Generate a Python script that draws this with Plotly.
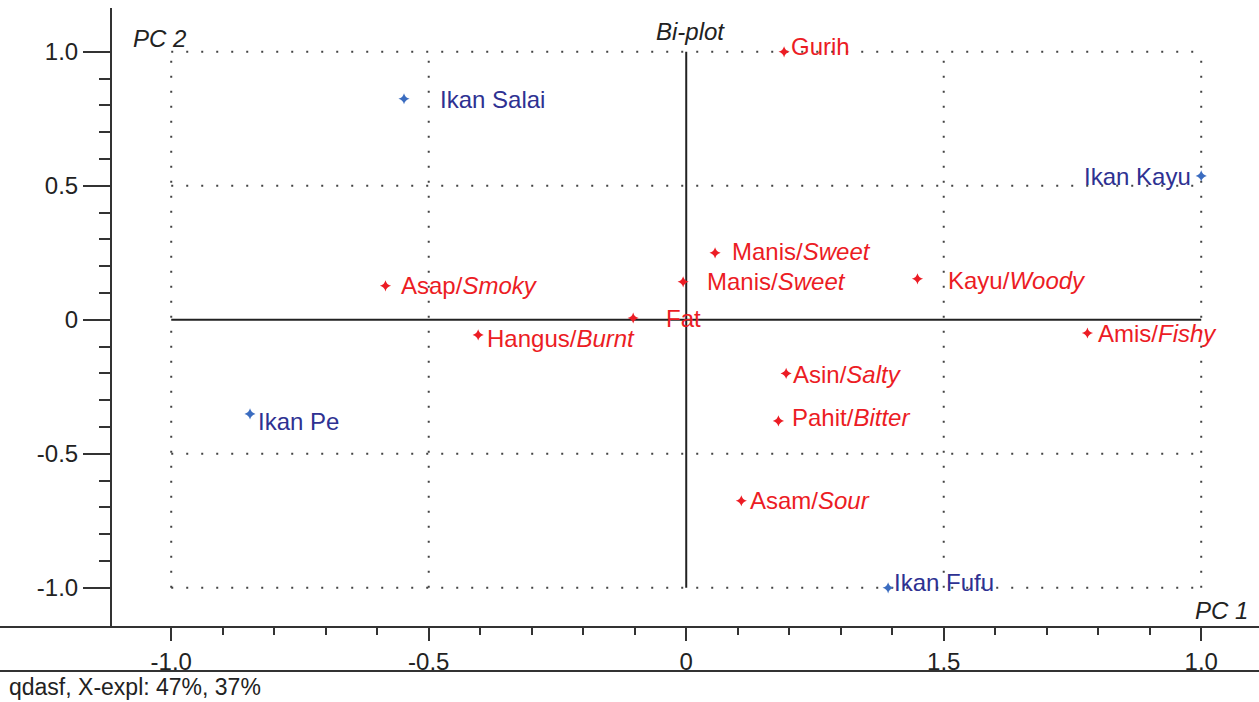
import plotly.graph_objects as go

# ---- data ----
attr_names = ["Gurih", "Manis/", "Manis/", "Kayu/", "Asap/", "Fat", "Hangus/", "Amis/", "Asin/", "Pahit/", "Asam/"]
attr_english = ["", "Sweet", "Sweet", "Woody", "Smoky", "", "Burnt", "Fishy", "Salty", "Bitter", "Sour"]
attr_pc1 = [0.190, 0.056, -0.006, 0.449, -0.584, -0.103, -0.404, 0.779, 0.194, 0.179, 0.107]
attr_pc2 = [1.000, 0.250, 0.142, 0.153, 0.127, 0.007, -0.056, -0.049, -0.200, -0.377, -0.675]

sample_names = ["Ikan Salai", "Ikan Kayu", "Ikan Pe", "Ikan Fufu"]
sample_pc1 = [-0.548, 1.000, -0.847, 0.392]
sample_pc2 = [0.825, 0.537, -0.351, -1.000]

x_tickvals = [-1.0, -0.5, 0.0, 0.5, 1.0]
x_ticktext = ["-1.0", "-0.5", "0", "1.5", "1.0"]
y_tickvals = [-1.0, -0.5, 0.0, 0.5, 1.0]
y_ticktext = ["-1.0", "-0.5", "0", "0.5", "1.0"]
minor_vals = [round(-1.0 + 0.1 * i, 1) for i in range(21)]
grid_vals = [-1.0, -0.5, 0.5, 1.0]

# label offsets (pixels)
attr_xshift = [5, 15, 22, 29, 14, 31, 7, 9, 5, 12, 7]
attr_yshift = [5, 1, 0, -2, 0, 0, -4, 0, -1, 3, 0]
sample_xshift = [34, -8, 6, 4]
sample_yshift = [-1, -1, -8, 5]
sample_anchor = ["left", "right", "left", "left"]

RED = "#EC1C24"
NAVY = "#2E3192"
MBLUE = "#3B6CC0"
INK = "#222222"
FONT = "Liberation Sans, Arial, sans-serif"
FS = 24

W, H = 1259, 702
ML, MR, MT, MB = 112, 0, 8, 75
PW, PH = W - ML - MR, H - MT - MB
xr = [-1.115, -1.115 + PW / 515.0]
yr = [-1.146, -1.146 + PH / 268.0]

fig = go.Figure()

# dotted grid
for g in grid_vals:
    fig.add_shape(type="line", x0=g, x1=g, y0=-1.0, y1=1.0, xref="x", yref="y",
                  line=dict(color="#444444", width=2, dash="2px,13px"), layer="below")
    fig.add_shape(type="line", x0=-1.0, x1=1.0, y0=g, y1=g, xref="x", yref="y",
                  line=dict(color="#444444", width=2, dash="2px,13px"), layer="below")
# zero axes
fig.add_shape(type="line", x0=-1.0, x1=1.0, y0=0, y1=0, line=dict(color=INK, width=2), layer="below")
fig.add_shape(type="line", x0=0, x1=0, y0=-1.0, y1=1.0, line=dict(color=INK, width=2), layer="below")

# bottom lines across whole width
fig.add_shape(type="line", xref="paper", yref="paper", x0=-ML / PW, x1=1.0, y0=0, y1=0,
              line=dict(color="#333333", width=2))
fig.add_shape(type="line", xref="paper", yref="paper", x0=-ML / PW, x1=1.0,
              y0=-(671 - (MT + PH)) / PH, y1=-(671 - (MT + PH)) / PH,
              line=dict(color="#333333", width=2))

fig.add_trace(go.Scatter(x=attr_pc1, y=attr_pc2, mode="markers",
                         marker=dict(symbol="star-diamond", size=8, color=RED),
                         hoverinfo="skip", showlegend=False))
fig.add_trace(go.Scatter(x=sample_pc1, y=sample_pc2, mode="markers",
                         marker=dict(symbol="star-diamond", size=8, color=MBLUE),
                         hoverinfo="skip", showlegend=False))

for n, e, x, y, dx, dy in zip(attr_names, attr_english, attr_pc1, attr_pc2, attr_xshift, attr_yshift):
    txt = n + (f"<i>{e}</i>" if e else "")
    fig.add_annotation(x=x, y=y, text=txt, showarrow=False, xanchor="left", yanchor="middle",
                       xshift=dx, yshift=dy, font=dict(family=FONT, size=FS, color=RED))
for n, x, y, dx, dy, a in zip(sample_names, sample_pc1, sample_pc2, sample_xshift, sample_yshift, sample_anchor):
    fig.add_annotation(x=x, y=y, text=n, showarrow=False, xanchor=a, yanchor="middle",
                       xshift=dx, yshift=dy, font=dict(family=FONT, size=FS, color=NAVY))

# titles
fig.add_annotation(x=(131 - ML) / PW, y=1 - (38 - MT) / PH, xref="paper", yref="paper",
                   text="<i>PC 2</i>", showarrow=False, xanchor="left", yanchor="middle",
                   font=dict(family=FONT, size=FS, color=INK))
fig.add_annotation(x=(1250 - ML) / PW, y=1 - (610 - MT) / PH, xref="paper", yref="paper",
                   text="<i>PC 1</i>", showarrow=False, xanchor="right", yanchor="middle",
                   font=dict(family=FONT, size=FS, color=INK))
fig.add_annotation(x=(690 - ML) / PW, y=1 - (32 - MT) / PH, xref="paper", yref="paper",
                   text="<i>Bi-plot</i>", showarrow=False, xanchor="center", yanchor="middle",
                   font=dict(family=FONT, size=FS, color=INK))
fig.add_annotation(x=(7 - ML) / PW, y=1 - (687 - MT) / PH, xref="paper", yref="paper",
                   text="qdasf, X-expl: 47%, 37%", showarrow=False, xanchor="left", yanchor="middle",
                   font=dict(family=FONT, size=23, color=INK))

fig.update_xaxes(range=xr, showgrid=False, zeroline=False, showline=False,
                 tickmode="array", tickvals=x_tickvals, ticktext=x_ticktext,
                 ticks="outside", ticklen=13, tickwidth=2, tickcolor="#333333",
                 tickfont=dict(family=FONT, size=FS, color=INK),
                 minor=dict(tickmode="array", tickvals=minor_vals, ticks="outside", ticklen=7,
                            tickwidth=2, tickcolor="#333333"))
fig.update_yaxes(range=yr, showgrid=False, zeroline=False, showline=True, linecolor="#333333", linewidth=2,
                 tickmode="array", tickvals=y_tickvals, ticktext=y_ticktext,
                 ticks="outside", ticklen=27, tickwidth=2, tickcolor="#333333",
                 tickfont=dict(family=FONT, size=FS, color=INK),
                 minor=dict(tickmode="array", tickvals=minor_vals, ticks="outside", ticklen=11,
                            tickwidth=2, tickcolor="#333333"))

fig.update_layout(width=W, height=H, margin=dict(l=ML, r=MR, t=MT, b=MB, pad=0),
                  plot_bgcolor="white", paper_bgcolor="white", showlegend=False)

fig.write_html("out.html", config={"displayModeBar": False},
               post_script="document.body.style.margin='0';document.body.style.overflow='hidden';")
